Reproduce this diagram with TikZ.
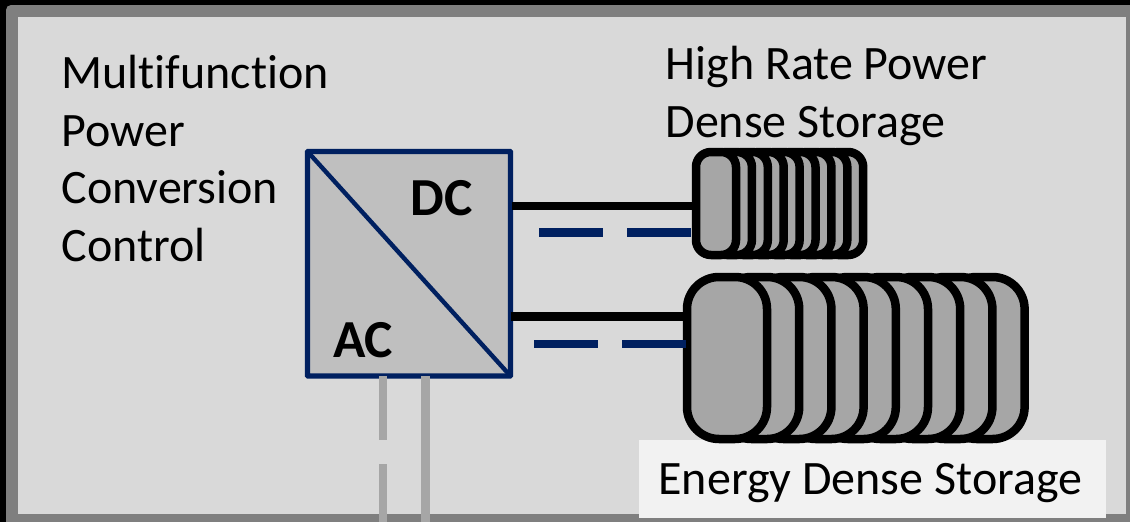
\documentclass[tikz,border=0pt]{standalone}
\usepackage{fontspec}
\setmainfont[Ligatures=NoCommon]{Carlito}
\definecolor{navy}{HTML}{002060}
\definecolor{frame}{HTML}{7F7F7F}
\definecolor{panel}{HTML}{D9D9D9}
\definecolor{cell}{HTML}{A6A6A6}
\definecolor{conv}{HTML}{BFBFBF}
\definecolor{lab}{HTML}{F2F2F2}
\tikzset{
  label text/.style={anchor=base west,inner sep=0pt,outer sep=0pt,font=\fontsize{48}{48}\selectfont,text=black},
  bold text/.style={anchor=base west,inner sep=0pt,outer sep=0pt,font=\fontsize{53.5}{54}\selectfont\bfseries,text=black},
  small cell/.style={draw=black,fill=cell,line width=8.5pt,rounded corners=15pt,minimum width=40pt,minimum height=103pt,inner sep=0pt,outer sep=0pt},
  large cell/.style={draw=black,fill=cell,line width=8.5pt,rounded corners=32pt,minimum width=80pt,minimum height=162pt,inner sep=0pt,outer sep=0pt},
  dc plus/.style={draw=black,line width=8.5pt},
  dc minus/.style={draw=navy,line width=8.5pt,dash pattern=on 64pt off 24pt},
  ac line/.style={draw=cell,line width=8.5pt},
}
\begin{document}
\begin{tikzpicture}[x=1pt,y=-1pt]
\useasboundingbox (0,0) rectangle (1130,522);
\fill[black] (0,0) rectangle (1130,522);
\fill[frame,rounded corners=5pt] (6,5) -- (1140,5) -- (1140,532) -- (6,532) -- cycle;
\fill[panel] (18,17) rectangle (1125.5,514);
\fill[lab] (639,440) rectangle (1106,518);
% converter
\node[draw=navy,fill=conv,line width=5.4pt,rounded corners=0.8pt,minimum width=203pt,minimum height=224.5pt,inner sep=0pt,outer sep=0pt] (conv) at (409,263.75) {};
\draw[navy,line width=4.4pt] (conv.north west) -- (conv.south east);
\node[bold text] (dc) at (410.5,215) {DC};
\node[bold text] (ac) at (333,357) {AC};
% small storage
\foreach \i in {8,...,1}{
  \node[small cell] (s\i) at ({716+15.9*\i},203.5) {};
}
\node[small cell] (s0) at (716,203.5) {};
% large storage
\foreach \i in {8,...,1}{
  \node[large cell] (l\i) at ({727+32.2*\i},358) {};
}
\node[large cell] (l0) at (727,358) {};
% connectors
\coordinate (up) at (512,206);
\coordinate (um) at (539,232.7);
\coordinate (lp) at (510.5,316.7);
\coordinate (lm) at (534,344);
\draw[dc plus] (up) -- (up -| s0.west);
\draw[dc minus] (um) -- ([xshift=-1pt]um -| s0.west);
\draw[dc plus] (lp) -- (lp -| l0.west);
\draw[dc minus] (lm) -- (lm -| l0.west);
\coordinate (a1) at (383,376);
\coordinate (a2) at (425.3,376);
\coordinate (b1) at (383,522);
\coordinate (b2) at (425.3,522);
\draw[ac line,dash pattern=on 64pt off 24pt] (a1) -- (b1);
\draw[ac line] (a2) -- (b2);
% text
\node[label text] (t1) at (61.5,88.5) {Multifunction};
\node[label text] (t2) at (61.5,146.5) {Power};
\node[label text] (t3) at (61.5,203.5) {Conversion};
\node[label text] (t4) at (61.5,261.5) {Control};
\node[label text] (h1) at (665.5,79.5) {High Rate Power};
\node[label text] (h2) at (665.5,137.5) {Dense Storage};
\node[label text] (e1) at (658.5,494.5) {Energy Dense Storage};
\end{tikzpicture}
\end{document}
